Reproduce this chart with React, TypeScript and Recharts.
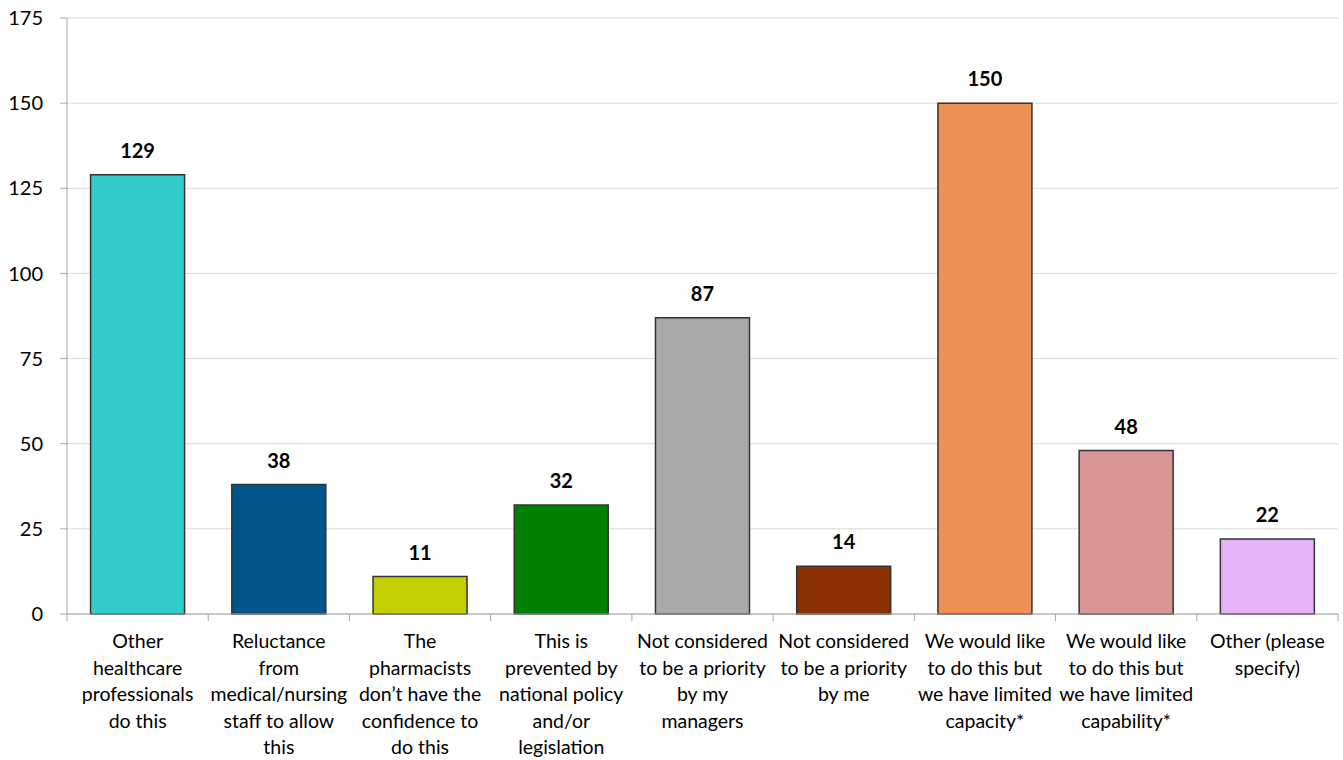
import React from 'react';
import { BarChart, Bar, XAxis, YAxis, CartesianGrid, LabelList, Cell } from 'recharts';

const CATEGORIES = [
  ['Other', 'healthcare', 'professionals', 'do this'],
  ['Reluctance', 'from', 'medical/nursing', 'staff to allow', 'this'],
  ['The', 'pharmacists', 'don\u2019t have the', 'confidence to', 'do this'],
  ['This is', 'prevented by', 'national policy', 'and/or', 'legislation'],
  ['Not considered', 'to be a priority', 'by my', 'managers'],
  ['Not considered', 'to be a priority', 'by me'],
  ['We would like', 'to do this but', 'we have limited', 'capacity*'],
  ['We would like', 'to do this but', 'we have limited', 'capability*'],
  ['Other (please', 'specify)'],
];

const VALUES = [129, 38, 11, 32, 87, 14, 150, 48, 22];

const BAR_COLORS = [
  '#33CCCC', '#00558A', '#C2CF00', '#008000', '#A9A9A9',
  '#8B3000', '#EE9053', '#DA9694', '#E6B3F8',
];

const Y_TICKS = [0, 25, 50, 75, 100, 125, 150, 175];

const W = 1343;
const H = 760;
const LEFT = 67;
const RIGHT = 5;
const BAND = (W - LEFT - RIGHT) / CATEGORIES.length;
const FONT = 'Lato, "Open Sans", sans-serif';

const data = CATEGORIES.map((lines, i) => ({
  key: `c${i}`,
  lines,
  value: VALUES[i],
}));

function CategoryTick(props: any) {
  const { x, y, index } = props;
  const lines: string[] = data[index]?.lines ?? [];
  const left = x - BAND / 2;
  const right = x + BAND / 2;
  return (
    <g>
      <line x1={left} y1={y} x2={left} y2={y + 7} stroke="#A6A6A6" strokeWidth={1} />
      {index === CATEGORIES.length - 1 && (
        <line x1={right} y1={y} x2={right} y2={y + 7} stroke="#A6A6A6" strokeWidth={1} />
      )}
      <text x={x} y={y + 34} textAnchor="middle" fontSize={19.5} fontFamily={FONT} fill="#000">
        {lines.map((l, i) => (
          <tspan key={i} x={x} dy={i === 0 ? 0 : 26.5}>
            {l}
          </tspan>
        ))}
      </text>
    </g>
  );
}

export default function App() {
  return (
    <div style={{ position: 'absolute', left: 0, top: 0, width: W, height: H, background: '#fff' }}>
      <BarChart
        width={W}
        height={H}
        data={data}
        margin={{ top: 18, right: RIGHT, left: 0, bottom: 0 }}
        barCategoryGap="16.7%"
      >
        <CartesianGrid vertical={false} stroke="#D9D9D9" />
        <XAxis
          dataKey="key"
          height={146}
          interval={0}
          axisLine={{ stroke: '#A6A6A6' }}
          tickLine={false}
          tickSize={0}
          tickMargin={0}
          tick={<CategoryTick />}
        />
        <YAxis
          width={LEFT}
          domain={[0, 175]}
          ticks={Y_TICKS}
          interval={0}
          axisLine={{ stroke: '#A6A6A6' }}
          tickLine={{ stroke: '#A6A6A6' }}
          tickSize={7}
          tickMargin={17}
          tick={{ fontSize: 20, fontFamily: FONT, fill: '#000' }}
        />
        <Bar dataKey="value" stroke="#333" strokeWidth={1.5} isAnimationActive={false}>
          {data.map((d, i) => (
            <Cell key={d.key} fill={BAR_COLORS[i]} />
          ))}
          <LabelList
            dataKey="value"
            position="top"
            offset={17}
            style={{ fontSize: 20, fontWeight: 700, fontFamily: FONT, fill: '#000' }}
          />
        </Bar>
      </BarChart>
    </div>
  );
}
